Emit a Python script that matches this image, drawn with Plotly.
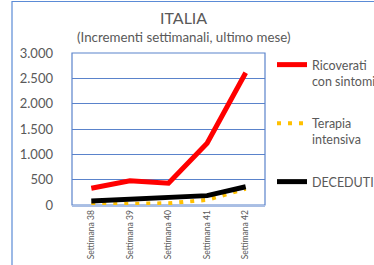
import plotly.graph_objects as go

categories = ["Settimana 38", "Settimana 39", "Settimana 40", "Settimana 41", "Settimana 42"]
ricoverati = [330, 480, 430, 1220, 2610]
terapia = [10, 20, 35, 100, 320]
deceduti = [80, 115, 150, 185, 360]
y_ticks = [0, 500, 1000, 1500, 2000, 2500, 3000]

W, H = 374, 265
# plot area in px
L, R, T, B = 72, 265, 53, 205
pw, ph = R - L, B - T

def px(x):
    return (x - L) / pw

def py(y):
    return (B - y) / ph

FONT = "Lato"
GRAY = "#595959"
GRID = "#5A83CB"

fig = go.Figure()
fig.add_trace(go.Scatter(x=categories, y=ricoverati, mode="lines", name="Ricoverati<br>con sintomi",
                         line=dict(color="#FF0000", width=5), legendgroup="a"))
fig.add_trace(go.Scatter(x=categories, y=terapia, mode="lines", name="Terapia<br>intensiva",
                         line=dict(color="#FFC000", width=4, dash="4px,7px"), legendgroup="b"))
fig.add_trace(go.Scatter(x=categories, y=deceduti, mode="lines", name="DECEDUTI",
                         line=dict(color="#000000", width=5), legendgroup="c"))

fig.update_layout(
    width=W, height=H,
    margin=dict(l=L, r=W - R, t=T, b=H - B, autoexpand=False),
    paper_bgcolor="white", plot_bgcolor="white",
    separators=",.",
    font=dict(family=FONT, color=GRAY, size=12),
    showlegend=True,
    legend=dict(x=px(272), y=py(50), xanchor="left", yanchor="top",
                font=dict(family=FONT, size=12.5, color=GRAY),
                valign="top", traceorder="grouped", tracegroupgap=23,
                maxheight=600,
                bgcolor="rgba(0,0,0,0)"),
    xaxis=dict(type="category", range=[-0.5, 4.5], tickangle=-90,
               tickfont=dict(family=FONT, size=8.5, color=GRAY),
               showgrid=False, showline=True, linecolor="#A9BEE4", linewidth=1.5,
               mirror=False, ticks="", fixedrange=True),
    yaxis=dict(range=[0, 3000], tickvals=y_ticks, tickformat=",d",
               tickfont=dict(family=FONT, size=13, color=GRAY),
               showgrid=True, gridcolor=GRID, gridwidth=1,
               showline=False, ticks="", ticklabelstandoff=18, zeroline=False),
)

# plot area border
fig.add_shape(type="rect", xref="paper", yref="paper", x0=0, x1=1, y0=0, y1=1,
              line=dict(color=GRID, width=1.2), layer="below")
# outer chart border
fig.add_shape(type="rect", xref="paper", yref="paper", x0=px(12), x1=px(400), y0=py(300), y1=py(1.5),
              line=dict(color="#5B8BD6", width=1.2))

fig.add_annotation(text="ITALIA", xref="paper", yref="paper", x=px(183), y=py(18),
                   showarrow=False, font=dict(family=FONT, size=16, color=GRAY),
                   xanchor="center", yanchor="middle")
fig.add_annotation(text="(Incrementi settimanali, ultimo mese)", xref="paper", yref="paper",
                   x=px(183), y=py(37), showarrow=False,
                   font=dict(family=FONT, size=13.3, color=GRAY),
                   xanchor="center", yanchor="middle")

fig.write_html("out.html", config={"displayModeBar": False},
               post_script="document.body.style.margin='0';document.body.style.overflow='hidden';")
